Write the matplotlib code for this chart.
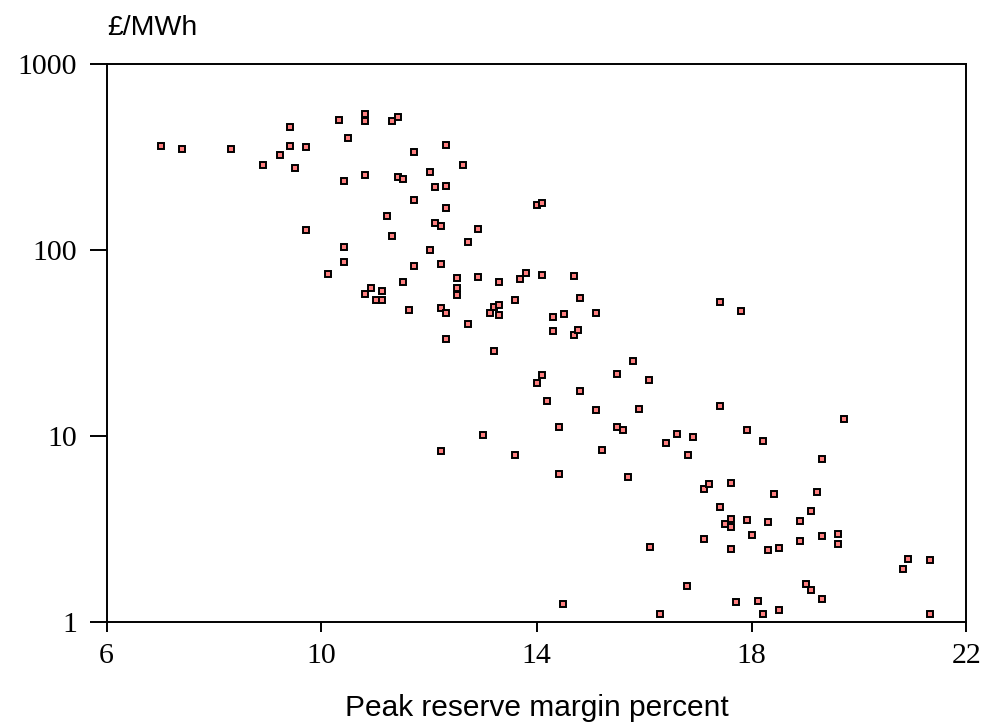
import matplotlib
matplotlib.use("Agg")
import matplotlib.pyplot as plt
from matplotlib.ticker import FixedLocator, FixedFormatter, NullLocator

# Peak reserve margin (%) and price (£/MWh)
reserve_margin = [
    7.01, 7.40, 8.32, 8.91, 9.22, 9.41, 9.41, 9.51, 9.72, 10.32,
    10.50, 10.42, 9.72, 10.42, 10.42, 10.12, 10.81, 10.81, 11.31, 11.42,
    11.72, 12.32, 12.63, 10.81, 11.42, 11.52, 12.02, 12.12, 12.32, 11.72,
    12.32, 11.21, 12.12, 12.22, 12.92, 11.31, 12.73, 12.02, 11.72, 12.22,
    11.52, 12.52, 12.92, 13.31, 13.70, 13.81, 14.10, 14.70, 12.52, 12.52,
    10.92, 10.81, 11.12, 11.01, 11.12, 11.62, 12.22, 12.32, 12.73, 12.32,
    13.21, 13.31, 13.14, 13.31, 13.60, 14.80, 14.31, 14.51, 14.31, 14.70,
    14.78, 15.10, 13.21, 15.80, 14.10, 14.00, 15.50, 16.10, 14.80, 14.20,
    15.10, 15.91, 14.41, 15.50, 15.60, 16.61, 16.91, 16.41, 16.81, 13.01,
    13.60, 15.21, 14.41, 15.71, 12.22, 17.41, 19.72, 17.91, 18.21, 19.31,
    17.12, 17.21, 17.61, 18.41, 19.22, 17.41, 19.11, 17.61, 17.51, 17.61,
    17.91, 18.31, 18.90, 18.01, 18.90, 19.32, 19.61, 19.61, 16.11, 17.12,
    17.61, 18.31, 18.52, 20.92, 20.82, 21.32, 16.80, 19.02, 19.11, 19.31,
    17.72, 18.12, 16.30, 18.21, 18.52, 21.32, 14.50, 14.00, 14.10, 17.41,
    17.81,
]
price = [
    363, 351, 352, 286, 325, 459, 363, 278, 358, 501,
    403, 236, 128, 104, 86, 74, 540, 495, 497, 520,
    337, 369, 287, 254, 247, 240, 262, 219, 220, 187,
    168, 153, 140, 134, 130, 119, 110, 100, 82, 84,
    67.6, 70.8, 71.4, 67.3, 69.9, 75, 73.8, 72.8, 62.3, 57.5,
    62.5, 58, 60, 53.7, 53.7, 47.4, 49, 45.9, 40, 33.2,
    49.6, 50.5, 46, 44.8, 53.7, 55, 43.6, 45.1, 36.7, 35,
    37.2, 45.7, 28.8, 25.4, 21.4, 19.2, 21.5, 20.1, 17.4, 15.5,
    13.8, 13.9, 11.2, 11.2, 10.7, 10.3, 9.86, 9.12, 7.92, 10.07,
    7.87, 8.43, 6.24, 6.01, 8.3, 14.5, 12.3, 10.7, 9.42, 7.48,
    5.16, 5.49, 5.56, 4.85, 4.99, 4.13, 3.96, 3.56, 3.34, 3.22,
    3.51, 3.45, 3.47, 2.92, 2.71, 2.90, 2.98, 2.62, 2.51, 2.77,
    2.45, 2.42, 2.48, 2.17, 1.91, 2.14, 1.55, 1.59, 1.49, 1.32,
    1.27, 1.30, 1.10, 1.10, 1.15, 1.10, 1.25, 175, 179, 52.4,
    46.9,
]

x_ticks = [6, 10, 14, 18, 22]
y_ticks = [1, 10, 100, 1000]
y_tick_labels = ["1", "10", "100", "1000"]
x_label = "Peak reserve margin percent"
y_unit = "£/MWh"

fig = plt.figure(figsize=(9.85, 7.22), dpi=100)
ax = fig.add_axes([106.5 / 985, 1 - 621.7 / 722, 860 / 985, (621.7 - 64.3) / 722])

ax.plot(reserve_margin, price, linestyle="none", marker="s", markersize=4.3,
        markerfacecolor="#ff7f7f", markeredgecolor="black", markeredgewidth=1.4,
        clip_on=False)

ax.set_yscale("log")
ax.set_xlim(6, 22)
ax.set_ylim(1, 1000)
ax.xaxis.set_major_locator(FixedLocator(x_ticks))
ax.set_xticklabels([str(t) for t in x_ticks])
ax.yaxis.set_major_locator(FixedLocator(y_ticks))
ax.yaxis.set_major_formatter(FixedFormatter(y_tick_labels))
ax.yaxis.set_minor_locator(NullLocator())
ax.xaxis.set_minor_locator(NullLocator())

for s in ax.spines.values():
    s.set_linewidth(1.4)
ax.tick_params(axis="y", direction="out", length=12, width=1.4, pad=9,
               labelsize=21.5, left=True, right=False)
ax.tick_params(axis="x", direction="out", length=7.5, width=1.4, pad=8,
               labelsize=21.5, bottom=True, top=False)
for lab in ax.get_xticklabels() + ax.get_yticklabels():
    lab.set_fontfamily("Liberation Serif")

fig.text(107 / 985, 1 - 35 / 722, y_unit, fontsize=20.5,
         family="Liberation Sans", ha="left", va="baseline")
fig.text(536.5 / 985, 1 - 716 / 722, x_label, fontsize=21.5,
         family="Liberation Sans", ha="center", va="baseline")

fig.savefig("out.png", dpi=100)
